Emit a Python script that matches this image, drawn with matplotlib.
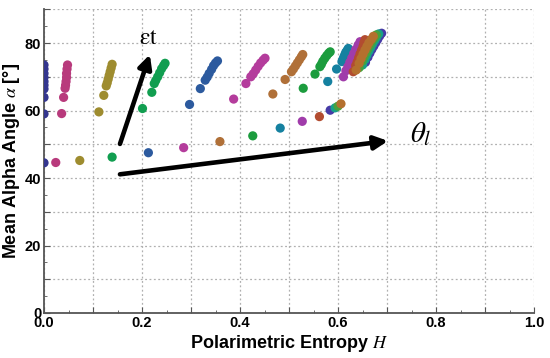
import matplotlib.pyplot as plt
from matplotlib.ticker import MultipleLocator, FuncFormatter

plt.rcParams['font.family'] = ['Liberation Sans', 'DejaVu Sans']
plt.rcParams['mathtext.fontset'] = 'stix'

# one entry per curve: entropy H and mean alpha angle (deg)
h_values = [
    [0.000, 0.000, 0.000, 0.000, 0.000, 0.000, 0.000, 0.000, 0.000, 0.000],
    [0.024, 0.036, 0.040, 0.043, 0.044, 0.045, 0.046, 0.046, 0.047, 0.048],
    [0.073, 0.112, 0.122, 0.127, 0.129, 0.131, 0.133, 0.135, 0.137, 0.139],
    [0.139, 0.201, 0.220, 0.225, 0.228, 0.232, 0.236, 0.240, 0.244, 0.247],
    [0.213, 0.297, 0.319, 0.329, 0.333, 0.337, 0.342, 0.346, 0.350, 0.354],
    [0.285, 0.387, 0.412, 0.422, 0.427, 0.432, 0.437, 0.442, 0.447, 0.451],
    [0.359, 0.467, 0.492, 0.505, 0.509, 0.513, 0.517, 0.521, 0.525, 0.528],
    [0.426, 0.529, 0.553, 0.563, 0.566, 0.569, 0.573, 0.577, 0.581, 0.584],
    [0.482, 0.579, 0.597, 0.608, 0.610, 0.612, 0.614, 0.616, 0.619, 0.621],
    [0.527, 0.611, 0.616, 0.620, 0.624, 0.628, 0.632, 0.636, 0.641, 0.645],
    [0.562, 0.631, 0.636, 0.639, 0.642, 0.645, 0.648, 0.651, 0.653, 0.655],
    [0.584, 0.656, 0.661, 0.665, 0.669, 0.673, 0.677, 0.681, 0.685, 0.689],
    [0.594, 0.650, 0.655, 0.659, 0.663, 0.667, 0.671, 0.675, 0.679, 0.683],
    [0.600, 0.643, 0.649, 0.653, 0.657, 0.661, 0.665, 0.669, 0.674, 0.678],
    [0.606, 0.637, 0.643, 0.647, 0.651, 0.655, 0.659, 0.663, 0.668, 0.672],
]
alpha_values = [
    [44.5, 59.0, 63.9, 66.4, 67.5, 68.6, 69.8, 71.0, 72.3, 73.5],
    [44.6, 59.1, 63.9, 66.6, 67.5, 68.6, 69.8, 71.0, 72.3, 73.5],
    [45.2, 59.6, 64.5, 67.3, 68.2, 69.3, 70.4, 71.5, 72.6, 73.7],
    [46.2, 60.6, 65.4, 68.0, 68.9, 70.0, 71.2, 72.4, 73.3, 74.0],
    [47.5, 61.8, 66.5, 69.0, 69.9, 71.0, 72.2, 73.3, 74.1, 74.7],
    [49.0, 63.4, 68.0, 70.0, 70.9, 72.0, 73.1, 74.1, 74.9, 75.5],
    [50.8, 64.9, 69.2, 71.5, 72.3, 73.2, 74.1, 75.0, 75.9, 76.6],
    [52.5, 66.6, 70.8, 73.0, 73.7, 74.6, 75.5, 76.3, 77.0, 77.4],
    [54.8, 68.6, 72.3, 74.5, 75.2, 75.9, 76.6, 77.3, 77.9, 78.4],
    [56.8, 70.0, 71.8, 73.0, 74.3, 75.6, 76.9, 78.1, 79.4, 80.4],
    [58.2, 71.5, 73.3, 74.4, 75.6, 76.8, 77.9, 79.0, 80.1, 81.0],
    [60.1, 74.3, 75.8, 77.0, 78.1, 79.1, 80.1, 81.1, 82.1, 82.9],
    [60.8, 73.5, 75.1, 76.4, 77.6, 78.7, 79.8, 80.8, 81.8, 82.7],
    [61.3, 72.7, 74.6, 75.9, 77.1, 78.3, 79.4, 80.5, 81.5, 82.4],
    [62.0, 72.0, 74.0, 75.4, 76.7, 77.9, 79.0, 80.1, 81.1, 82.0],
]
colors = ['#34368f', '#b83a7c', '#9e8c2f', '#119e50', '#2c5a9e',
          '#b43c9c', '#b07038', '#1c9c3e', '#1581a0', '#a03caa',
          '#b24c30', '#463aa6', '#17a088', '#48a23c', '#b4702e']

fig, ax = plt.subplots(figsize=(5.5, 3.58), dpi=100)
fig.subplots_adjust(left=0.08, right=0.971, bottom=0.1257, top=0.974)

for h, a, c in zip(h_values, alpha_values, colors):
    ax.scatter(h, a, s=44, color=c, edgecolors='none', zorder=3)

# annotation arrows
arrow = dict(arrowstyle='-|>,head_length=0.8,head_width=0.4', color='black', lw=3.3,
             shrinkA=0, shrinkB=0)
ax.annotate('', xy=(0.216, 76.6), xytext=(0.155, 50.1), arrowprops=arrow, zorder=4)
ax.annotate('', xy=(0.702, 51.0), xytext=(0.155, 41.1), arrowprops=arrow, zorder=4)
ax.text(0.214, 81.5, r'$\mathrm{\varepsilon t}$', fontsize=17, ha='center', va='center')
ax.text(0.768, 53.0, r'$\theta_{l}$', fontsize=21, ha='center', va='center')

ax.set_xlim(0, 1.0)
ax.set_ylim(0, 90)
ax.xaxis.set_major_locator(MultipleLocator(0.1))
ax.xaxis.set_minor_locator(MultipleLocator(0.05))
ax.yaxis.set_major_locator(MultipleLocator(10))
ax.yaxis.set_minor_locator(MultipleLocator(5))
ax.xaxis.set_major_formatter(FuncFormatter(
    lambda v, p: f'{v:.1f}' if round(v * 10) % 2 == 0 else ''))
ax.yaxis.set_major_formatter(FuncFormatter(
    lambda v, p: f'{v:.0f}' if round(v) % 20 == 0 else ''))
ax.tick_params(which='both', direction='in', colors='#555555', labelcolor='black',
               labelsize=10.5, pad=2)
ax.tick_params(which='major', length=4)
ax.tick_params(which='minor', length=2.5)
for lab in ax.get_xticklabels() + ax.get_yticklabels():
    lab.set_fontweight('bold')

ax.grid(True, which='major', color='#b0b0b0', linestyle=(0, (1.5, 2)), linewidth=0.9)
ax.set_axisbelow(True)
for side in ['top', 'right']:
    ax.spines[side].set_visible(False)
for side in ['left', 'bottom']:
    ax.spines[side].set_color('#555555')
    ax.spines[side].set_linewidth(1.3)

ax.set_xlabel(r'Polarimetric Entropy $H$', fontsize=13, fontweight='bold', labelpad=2)
ax.set_ylabel(r'Mean Alpha Angle $\alpha$ [°]', fontsize=13, fontweight='bold', labelpad=2)

plt.savefig('out.png', dpi=100)
